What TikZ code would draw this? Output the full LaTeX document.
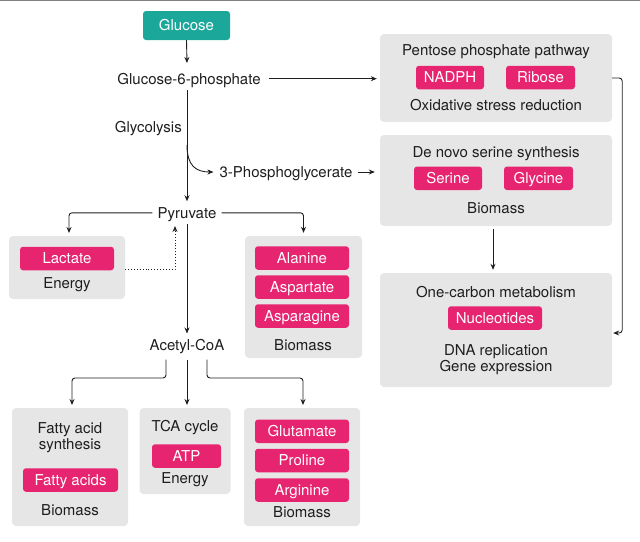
\documentclass[tikz,border=0pt]{standalone}
\usepackage{fontspec}
\setmainfont{TeX Gyre Heros}
\usetikzlibrary{arrows.meta,calc}
\definecolor{teal1}{HTML}{1BA89B}
\definecolor{pink1}{HTML}{E6246F}
\definecolor{boxgray}{HTML}{E6E6E6}
\definecolor{ink}{HTML}{1E1E1E}
\begin{document}
\begin{tikzpicture}[x=1pt,y=-1pt,
  every node/.style={font=\fontsize{15}{18}\selectfont, text=ink, inner sep=0pt, text height=10.7pt, text depth=0pt},
  panel/.style={fill=boxgray, rounded corners=4pt},
  pill/.style={fill=pink1, rounded corners=3pt, text=white, minimum height=23.5pt},
  conn/.style={draw=ink, line width=0.9pt, -{Stealth[length=6pt,width=5pt]}, rounded corners=3pt},
  dotconn/.style={draw=ink, line width=0.9pt, dotted, -{Stealth[length=6pt,width=5pt]}}
]
\useasboundingbox (0,0) rectangle (640,541);
\draw[gray, line width=1pt] (0,0.5) -- (640,0.5);

% gray panels
\node[panel, minimum width=232pt, minimum height=88pt] (ppp) at (496,78) {};
\node[panel, minimum width=232pt, minimum height=91pt] (dnss) at (496,180.5) {};
\node[panel, minimum width=232pt, minimum height=114pt] (ocm) at (496,330) {};
\node[panel, minimum width=116pt, minimum height=63pt] (lacbox) at (67,267.5) {};
\node[panel, minimum width=117pt, minimum height=122pt] (aabox) at (303.5,297) {};
\node[panel, minimum width=116pt, minimum height=118pt] (fabox) at (70,467) {};
\node[panel, minimum width=91pt, minimum height=86pt] (tcabox) at (185,451) {};
\node[panel, minimum width=116pt, minimum height=118pt] (gluBox) at (302,467) {};

% main chain
\node[fill=teal1, rounded corners=3pt, text=white, minimum width=87pt, minimum height=29pt] (glc) at (186.5,25.5) {Glucose};
\node (g6p) at (189,78.7) {Glucose-6-phosphate};
\node[anchor=east] (glyco) at (182,127.2) {Glycolysis};
\node (tpg) at (286,172) {3-Phosphoglycerate};
\node (pyr) at (187,212.8) {Pyruvate};
\node (acoa) at (187,345) {Acetyl-CoA};

% pentose phosphate
\node (ppptitle) at (496,50) {Pentose phosphate pathway};
\node[pill, minimum width=68pt] (nadph) at (450,77.5) {NADPH};
\node[pill, minimum width=69pt] (ribose) at (540.5,77.5) {Ribose};
\node (oxi) at (496,104.8) {Oxidative stress reduction};

% serine
\node (dntitle) at (496,152) {De novo serine synthesis};
\node[pill, minimum width=68pt] (serine) at (448,178.3) {Serine};
\node[pill, minimum width=69pt] (glycine) at (538.5,178.3) {Glycine};
\node (dnbio) at (496,208) {Biomass};

% one carbon
\node (octitle) at (496,292.4) {One-carbon metabolism};
\node[pill, minimum width=94pt] (nuc) at (495,318) {Nucleotides};
\node (dna) at (496,349.7) {DNA replication};
\node (gene) at (496,365.7) {Gene expression};

% lactate
\node[pill, minimum width=94pt] (lac) at (67,258.5) {Lactate};
\node (lacen) at (67,283) {Energy};

% amino acids
\node[pill, minimum width=94pt] (ala) at (302,258) {Alanine};
\node[pill, minimum width=94pt] (asp) at (302,287) {Aspartate};
\node[pill, minimum width=94pt] (asn) at (302,316) {Asparagine};
\node (aabio) at (303,344.7) {Biomass};

% fatty acids
\node (fat1) at (70,428) {Fatty acid};
\node (fat2) at (70,444) {synthesis};
\node[pill, minimum width=95pt] (fa) at (70.5,480) {Fatty acids};
\node (fabio) at (70,509.7) {Biomass};

% TCA
\node (tca) at (185,426.4) {TCA cycle};
\node[pill, minimum width=69pt] (atp) at (186.5,456) {ATP};
\node (tcaen) at (185,478) {Energy};

% glutamate family
\node[pill, minimum width=94pt] (glu) at (302,431.3) {Glutamate};
\node[pill, minimum width=94pt] (pro) at (302,460.5) {Proline};
\node[pill, minimum width=94pt] (arg) at (302,490) {Arginine};
\node (glubio) at (302,512) {Biomass};

% coordinates
\coordinate (split) at (187,145);
\coordinate (dotend) at (175,226);

% connectors
\draw[conn] (glc.south) -- (187,63);
\draw[conn, shorten <=8pt, shorten >=3pt] (g6p.east) -- (g6p.east -| ppp.west);
\draw[conn, shorten >=1pt] (ppp.east) -- ++(10,0) |- ([yshift=-3pt]ocm.east);
\draw[conn, shorten <=6pt, shorten >=6pt] (g6p.south -| pyr.north) -- (pyr.north);
\draw[conn] (split) .. controls (187,166) and (196,172) .. ([xshift=-6pt]tpg.west);
\draw[conn, shorten <=5pt, shorten >=5pt] (tpg.east) -- (tpg.east -| dnss.west);
\draw[conn, shorten <=3pt, shorten >=3pt] (dnss.south -| 493,0) -- (ocm.north -| 493,0);
\draw[conn, shorten <=5pt, shorten >=3pt] (pyr.west) -| (69,236);
\draw[conn, shorten <=5pt, shorten >=3pt] (pyr.east) -| (aabox.north);
\draw[dotconn] ([yshift=-1.5pt]lacbox.east) -| (dotend);
\draw[conn, shorten <=6pt, shorten >=6pt] (pyr.south) -- (acoa.north);
\draw[conn, shorten >=3pt] ([xshift=-21pt,yshift=-9pt]acoa.south) |- (100,378) -| (72,408);
\draw[conn, shorten >=3pt] ([yshift=-9pt]acoa.south) -- (187,408);
\draw[conn, shorten >=3pt] ([xshift=20pt,yshift=-9pt]acoa.south) |- (250,378) -| (303,408);
\end{tikzpicture}
\end{document}
